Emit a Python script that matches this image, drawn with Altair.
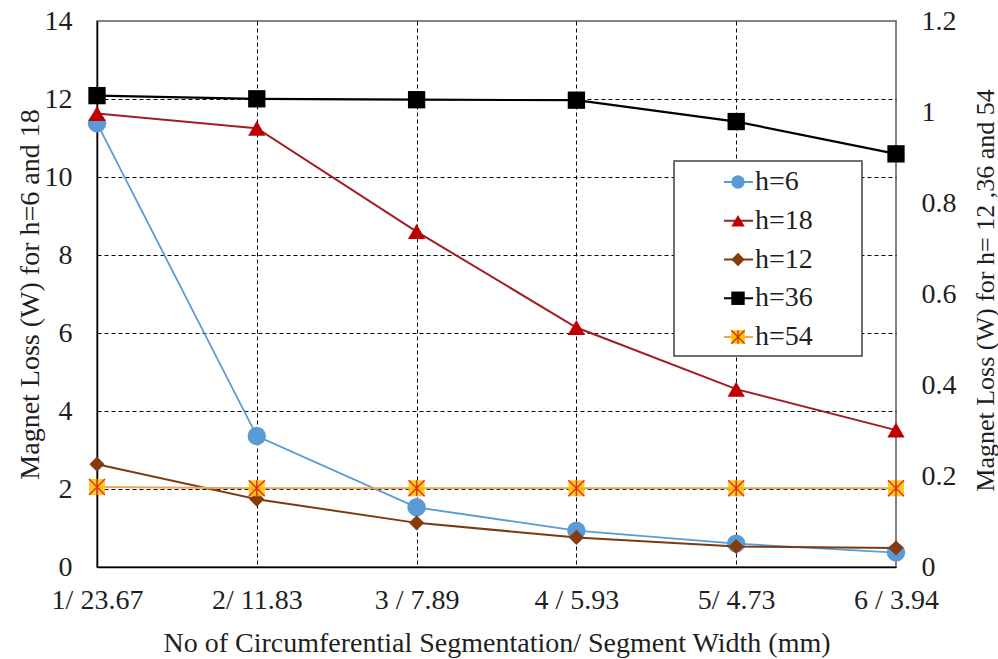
import altair as alt
import pandas as pd

# Segmentation count / segment width (mm)
categories = ["1/ 23.67", "2/ 11.83", "3 / 7.89", "4 / 5.93", "5/ 4.73", "6 / 3.94"]

# Magnet loss (W), left axis series
h6 = [11.38, 3.36, 1.53, 0.93, 0.60, 0.37]
h18 = [11.63, 11.25, 8.60, 6.14, 4.56, 3.51]

# Magnet loss (W), right axis series
h12 = [0.226, 0.149, 0.097, 0.065, 0.045, 0.042]
h36 = [1.036, 1.029, 1.027, 1.026, 0.979, 0.908]
h54 = [0.176, 0.173, 0.173, 0.173, 0.173, 0.173]

legend_labels = ["h=6", "h=18", "h=12", "h=36", "h=54"]
legend_line_colors = ["#5B9BD5", "#A11D21", "#7B3B12", "#000000", "#EDA35A"]
legend_fill_colors = ["#5B9BD5", "#C00000", "#843C0C", "#000000", "#FFC000"]
legend_shapes = ["circle", "triangle-up", "diamond", "square", "square"]

left_ticks = [0, 2, 4, 6, 8, 10, 12, 14]
right_ticks = [0, 0.2, 0.4, 0.6, 0.8, 1.0, 1.2]

FONT = "Liberation Serif"
TXT = "#1f1f1f"
ASTERISK = "M-1,-1L1,1M-1,1L1,-1M0,-1L0,1"

df = pd.DataFrame({"cat": categories, "h6": h6, "h18": h18,
                   "h12": h12, "h36": h36, "h54": h54})
leg = pd.DataFrame({"label": legend_labels})

W, H = 799, 546

x_enc = alt.X(
    "cat:N", sort=categories,
    scale=alt.Scale(type="point", padding=0),
    axis=alt.Axis(
        title="No of Circumferential Segmentation/ Segment Width (mm)",
        labelAngle=0, labelFont=FONT, labelFontSize=28, labelColor=TXT,
        labelBaseline="middle", labelPadding=33,
        ticks=False, domainColor="#000000", domainWidth=1.5,
        grid=True, gridColor="#000000", gridDash=[4, 3], gridWidth=1,
        gridOpacity={"condition": {"test": "datum.value === '1/ 23.67' || datum.value === '6 / 3.94'",
                                   "value": 0}, "value": 1},
        titleFont=FONT, titleFontSize=28, titleFontWeight="normal", titleColor=TXT,
        titleBaseline="middle", titleX=W / 2, titleY=76,
    ),
)

left_scale = alt.Scale(domain=[0, 14], nice=False, zero=True)
left_axis = alt.Axis(
    title="Magnet Loss (W)  for h=6 and 18", orient="left", values=left_ticks,
    labelFont=FONT, labelFontSize=28, labelColor=TXT, labelPadding=25,
    ticks=False, domainColor="#000000", domainWidth=1.5,
    grid=True, gridColor="#000000", gridDash=[4, 3], gridWidth=1,
    gridOpacity={"condition": {"test": "datum.value === 0 || datum.value === 14", "value": 0},
                 "value": 1},
    titleFont=FONT, titleFontSize=28, titleFontWeight="normal", titleColor=TXT,
    titleAngle=270, titleBaseline="middle", titleX=-67, titleY=H / 2,
)

right_scale = alt.Scale(domain=[0, 1.2], nice=False, zero=True)
right_axis = alt.Axis(
    title="Magnet Loss (W) for h= 12 ,36 and 54", orient="right", values=right_ticks,
    format=".1~f", labelFont=FONT, labelFontSize=28, labelColor=TXT, labelPadding=25,
    ticks=False, domain=False, grid=False,
    titleFont=FONT, titleFontSize=26, titleFontWeight="normal", titleColor=TXT,
    titleAngle=270, titleBaseline="middle", titleX=89, titleY=H / 2 - 4,
)

base = alt.Chart(df)


def left_y(field):
    return alt.Y(f"{field}:Q", scale=left_scale, axis=left_axis)


def right_y(field):
    return alt.Y(f"{field}:Q", scale=right_scale, axis=right_axis)


def line(yenc, color, width=2):
    return base.mark_line(color=color, strokeWidth=width).encode(x=x_enc, y=yenc)


def pts(yenc, shape, fill, size, **kw):
    return base.mark_point(shape=shape, filled=True, fill=fill, size=size,
                           opacity=1, **kw).encode(x=x_enc, y=yenc)


left_group = alt.layer(
    line(left_y("h6"), "#5B9BD5", 1.8),
    pts(left_y("h6"), "circle", "#5B9BD5", 340),
    line(left_y("h18"), "#A11D21", 2),
    pts(left_y("h18"), "triangle-up", "#C00000", 300),
)

right_group = alt.layer(
    line(right_y("h12"), "#7B3B12", 2),
    pts(right_y("h12"), "diamond", "#843C0C", 230),
    line(right_y("h36"), "#000000", 2.2),
    pts(right_y("h36"), "square", "#000000", 300),
    line(right_y("h54"), "#EDA35A", 2),
    pts(right_y("h54"), "square", "#FFC000", 256, fillOpacity=0.85),
    base.mark_point(shape=ASTERISK, filled=False, color="#E0301E", size=256,
                    strokeWidth=1.4, opacity=1).encode(x=x_enc, y=right_y("h54")),
)

# Legend box with line-and-marker keys
leg_base = alt.Chart(leg)
leg_y = alt.Y("label:N", sort=legend_labels,
              scale=alt.Scale(type="point", domain=legend_labels, range=[161, 316], padding=0),
              axis=None)

legend_box = alt.Chart(pd.DataFrame({"k": [0]})).mark_rect(
    fill="white", stroke="#404040", strokeWidth=1.5
).encode(x=alt.value(577), x2=alt.value(765), y=alt.value(140), y2=alt.value(335))

legend_lines = leg_base.mark_rule(strokeWidth=2).encode(
    x=alt.value(627), x2=alt.value(656), y=leg_y,
    color=alt.Color("label:N", scale=alt.Scale(domain=legend_labels, range=legend_line_colors),
                    legend=None),
)

legend_marks = leg_base.mark_point(filled=True, size=180, opacity=1).encode(
    x=alt.value(641), y=leg_y,
    shape=alt.Shape("label:N", scale=alt.Scale(domain=legend_labels, range=legend_shapes),
                    legend=None),
    fill=alt.Fill("label:N", scale=alt.Scale(domain=legend_labels, range=legend_fill_colors),
                  legend=None),
)

legend_star = leg_base.transform_filter(alt.datum.label == "h=54").mark_point(
    shape=ASTERISK, filled=False, color="#C0301E", size=180, strokeWidth=1.2, opacity=1
).encode(x=alt.value(641), y=leg_y)

legend_text = leg_base.mark_text(
    align="left", baseline="middle", font=FONT, fontSize=28, color=TXT
).encode(x=alt.value(658), y=leg_y, text="label:N")

legend_group = alt.layer(legend_box, legend_lines, legend_marks, legend_star, legend_text)

chart = alt.layer(left_group, right_group, legend_group).resolve_scale(
    y="independent", color="independent", fill="independent", shape="independent"
).properties(
    width=W, height=H,
    padding={"left": 97, "top": 21, "right": 102, "bottom": 92},
    autosize=alt.AutoSizeParams(type="none"),
    background="white",
).configure_view(stroke="#595959", strokeWidth=1.5)

chart.save("out.html", embed_options={"renderer": "svg", "actions": False})
